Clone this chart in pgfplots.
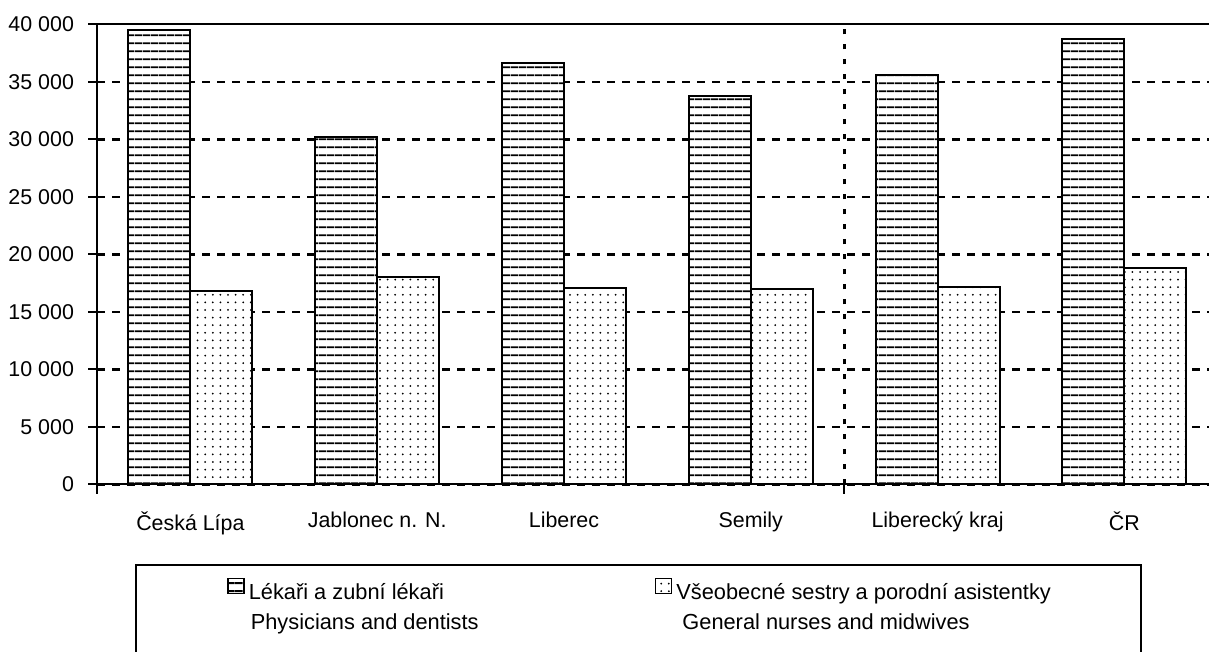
\documentclass[border=0pt]{standalone}
\usepackage{pgfplots}
\pgfplotsset{compat=1.18}
\usepackage{fontspec}
\setmainfont{Liberation Sans}
\usetikzlibrary{patterns.meta}

\begin{document}
\begin{tikzpicture}
\begin{axis}[
  at={(0pt,0pt)}, anchor=south west,
  scale only axis, width=560.4pt, height=230.1pt,
  xmin=-0.5, xmax=5.5, ymin=0, ymax=40000,
  ybar, bar width=0.332,
  axis line style={line width=1pt},
  xtick={0,1,2,3,4,5},
  xticklabels={Česká Lípa, Jablonec n. N., Liberec, Semily, Liberecký kraj, ČR},
  xtick pos=bottom, ytick pos=left,
  tick align=outside,
  major tick length=4.5pt,
  major x tick style={draw=none},
  tick style={line width=1pt, black},
  extra x ticks={-0.5,3.5},
  extra x tick labels={},
  extra x tick style={grid=major, major x tick style={draw=black, line width=1pt},
     major grid style={black, line width=1.3pt, dash pattern=on 2.8pt off 4.7pt}},
  ytick={0,5000,10000,15000,20000,25000,30000,35000,40000},
  yticklabels={0,5 000,10 000,15 000,20 000,25 000,30 000,35 000,40 000},
  scaled y ticks=false,
  ymajorgrids,
  major grid style={black, line width=1.2pt, dash pattern=on 4pt off 3.5pt},
  every tick label/.append style={font=\fontsize{10.7}{13}\selectfont},
  yticklabel style={xshift=-3.5pt},
  xticklabel style={yshift=-5.5pt},
  legend columns=2,
  legend style={at={(0.116,-0.2314)}, anchor=west, draw=none, fill=none,
     inner sep=0pt, outer sep=0pt,
     font=\fontsize{10.9}{15}\selectfont,
     /tikz/every even column/.append style={column sep=86pt}},
  legend cell align=left,
  legend image code/.code={\draw[#1, line width=0.9pt] (0pt,-1.25pt) rectangle (8pt,6.25pt);},
]
\addplot[draw=black, line width=1pt, fill=white, bar shift=-0.166,
  postaction={pattern={Lines[angle=0, distance=3.85pt, line width=0.9pt]}, pattern color=black}]
  coordinates {(0,39500) (1,30200) (2,36600) (3,33800) (4,35600) (5,38700)};
\addlegendentry{\begin{tabular}[t]{@{}l@{}}Lékaři a zubní lékaři\\\hspace*{1pt}Physicians and dentists\end{tabular}}
\addplot[draw=black, line width=1pt, fill=white, bar shift=0.166,
  postaction={pattern={Dots[distance=3.8pt, radius=0.5pt]}, pattern color=black}]
  coordinates {(0,16800) (1,18000) (2,17100) (3,17000) (4,17200) (5,18800)};
\addlegendentry{\begin{tabular}[t]{@{}l@{}}Všeobecné sestry a porodní asistentky\\\hspace*{3pt}General nurses and midwives\end{tabular}}
\end{axis}
\draw[line width=1pt] (19.5pt,-40.25pt) rectangle (522pt,-95pt);
\pgfresetboundingbox
\path[use as bounding box] (-48.5pt,-83.75pt) rectangle (556pt,242.25pt);
\end{tikzpicture}
\end{document}
